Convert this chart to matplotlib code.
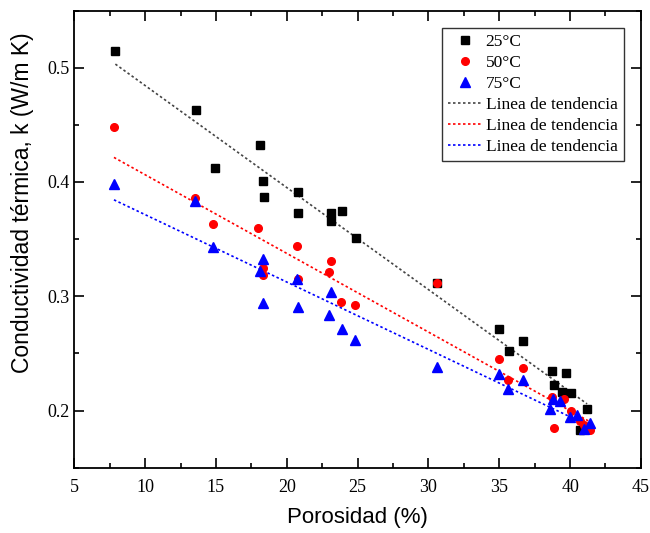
import numpy as np
import matplotlib
matplotlib.use("Agg")
import matplotlib.pyplot as plt
from matplotlib.ticker import MultipleLocator

plt.rcParams['font.family'] = ['Liberation Serif', 'DejaVu Serif']

# Datos: porosidad (%) y conductividad k (W/m K)
x_25 = [7.9, 13.6, 14.9, 18.1, 18.3, 18.4, 20.8, 20.8, 23.1, 23.1, 23.9, 24.9,
        30.6, 35.0, 35.7, 36.7, 38.7, 38.9, 39.4, 39.7, 40.1, 40.7, 41.2]
k_25 = [0.515, 0.463, 0.412, 0.432, 0.401, 0.387, 0.391, 0.373, 0.373, 0.366, 0.375, 0.351,
        0.312, 0.271, 0.252, 0.261, 0.235, 0.222, 0.216, 0.233, 0.215, 0.183, 0.201]

x_50 = [7.8, 13.5, 14.8, 18.0, 18.3, 18.3, 20.7, 20.8, 23.1, 23.0, 23.8, 24.8,
        30.6, 35.0, 35.6, 36.7, 38.7, 38.9, 39.6, 40.1, 40.7, 41.0, 41.4]
k_50 = [0.448, 0.386, 0.363, 0.360, 0.325, 0.319, 0.344, 0.315, 0.331, 0.321, 0.295, 0.292,
        0.312, 0.245, 0.227, 0.237, 0.212, 0.185, 0.210, 0.200, 0.191, 0.187, 0.183]

x_75 = [7.8, 13.5, 14.8, 18.1, 18.3, 18.3, 20.7, 20.8, 23.1, 23.0, 23.9, 24.8,
        30.6, 35.0, 35.6, 36.7, 38.6, 38.8, 39.3, 40.0, 40.5, 41.0, 41.4]
k_75 = [0.398, 0.383, 0.343, 0.322, 0.333, 0.294, 0.315, 0.291, 0.304, 0.284, 0.271, 0.262,
        0.238, 0.232, 0.219, 0.227, 0.201, 0.210, 0.208, 0.194, 0.196, 0.184, 0.189]

fig = plt.figure(figsize=(6.5, 5.33), dpi=100)
ax = fig.add_axes([0.1143, 0.1225, 0.8717, 0.8578])

ax.plot(x_25, k_25, 's', color='black', ms=5.5, label='25°C', zorder=3)
ax.plot(x_50, k_50, 'o', color='red', ms=5.5, label='50°C', zorder=3)
ax.plot(x_75, k_75, '^', color='blue', ms=6.5, label='75°C', zorder=3)

# lineas de tendencia (ajuste lineal)
for xs, ks, c in [(x_25, k_25, '#444444'), (x_50, k_50, 'red'), (x_75, k_75, 'blue')]:
    p = np.polyfit(xs, ks, 1)
    xx = np.array([min(xs), max(xs)])
    ax.plot(xx, np.polyval(p, xx), ls=(0, (1.5, 1.5)), color=c, lw=1.2,
            label='Linea de tendencia', zorder=2)

ax.set_xlim(5, 45)
ax.set_ylim(0.15, 0.55)
ax.xaxis.set_major_locator(MultipleLocator(5))
ax.xaxis.set_minor_locator(MultipleLocator(2.5))
ax.yaxis.set_major_locator(MultipleLocator(0.1))
ax.yaxis.set_minor_locator(MultipleLocator(0.05))
ax.tick_params(which='both', direction='in', top=True, right=True, labelsize=13, width=1.2)
ax.tick_params(which='major', length=7)
ax.tick_params(which='minor', length=3.5)
ax.tick_params(axis='x', pad=8)
for s in ax.spines.values():
    s.set_linewidth(1.3)

lab_font = ['Liberation Sans', 'DejaVu Sans']
ax.set_xlabel('Porosidad (%)', fontsize=16, family=lab_font, labelpad=8)
ax.set_ylabel('Conductividad térmica, k (W/m K)', fontsize=16.5, family=lab_font)
ax.yaxis.set_label_coords(-0.071, 0.58)

leg = ax.legend(loc='upper right', fontsize=12.5, frameon=True, fancybox=False,
                edgecolor='black', handlelength=1.9, handletextpad=0.25,
                borderaxespad=1.0, labelspacing=0.28, borderpad=0.35)
leg.get_frame().set_linewidth(1.0)

fig.savefig('out.png', dpi=100)
